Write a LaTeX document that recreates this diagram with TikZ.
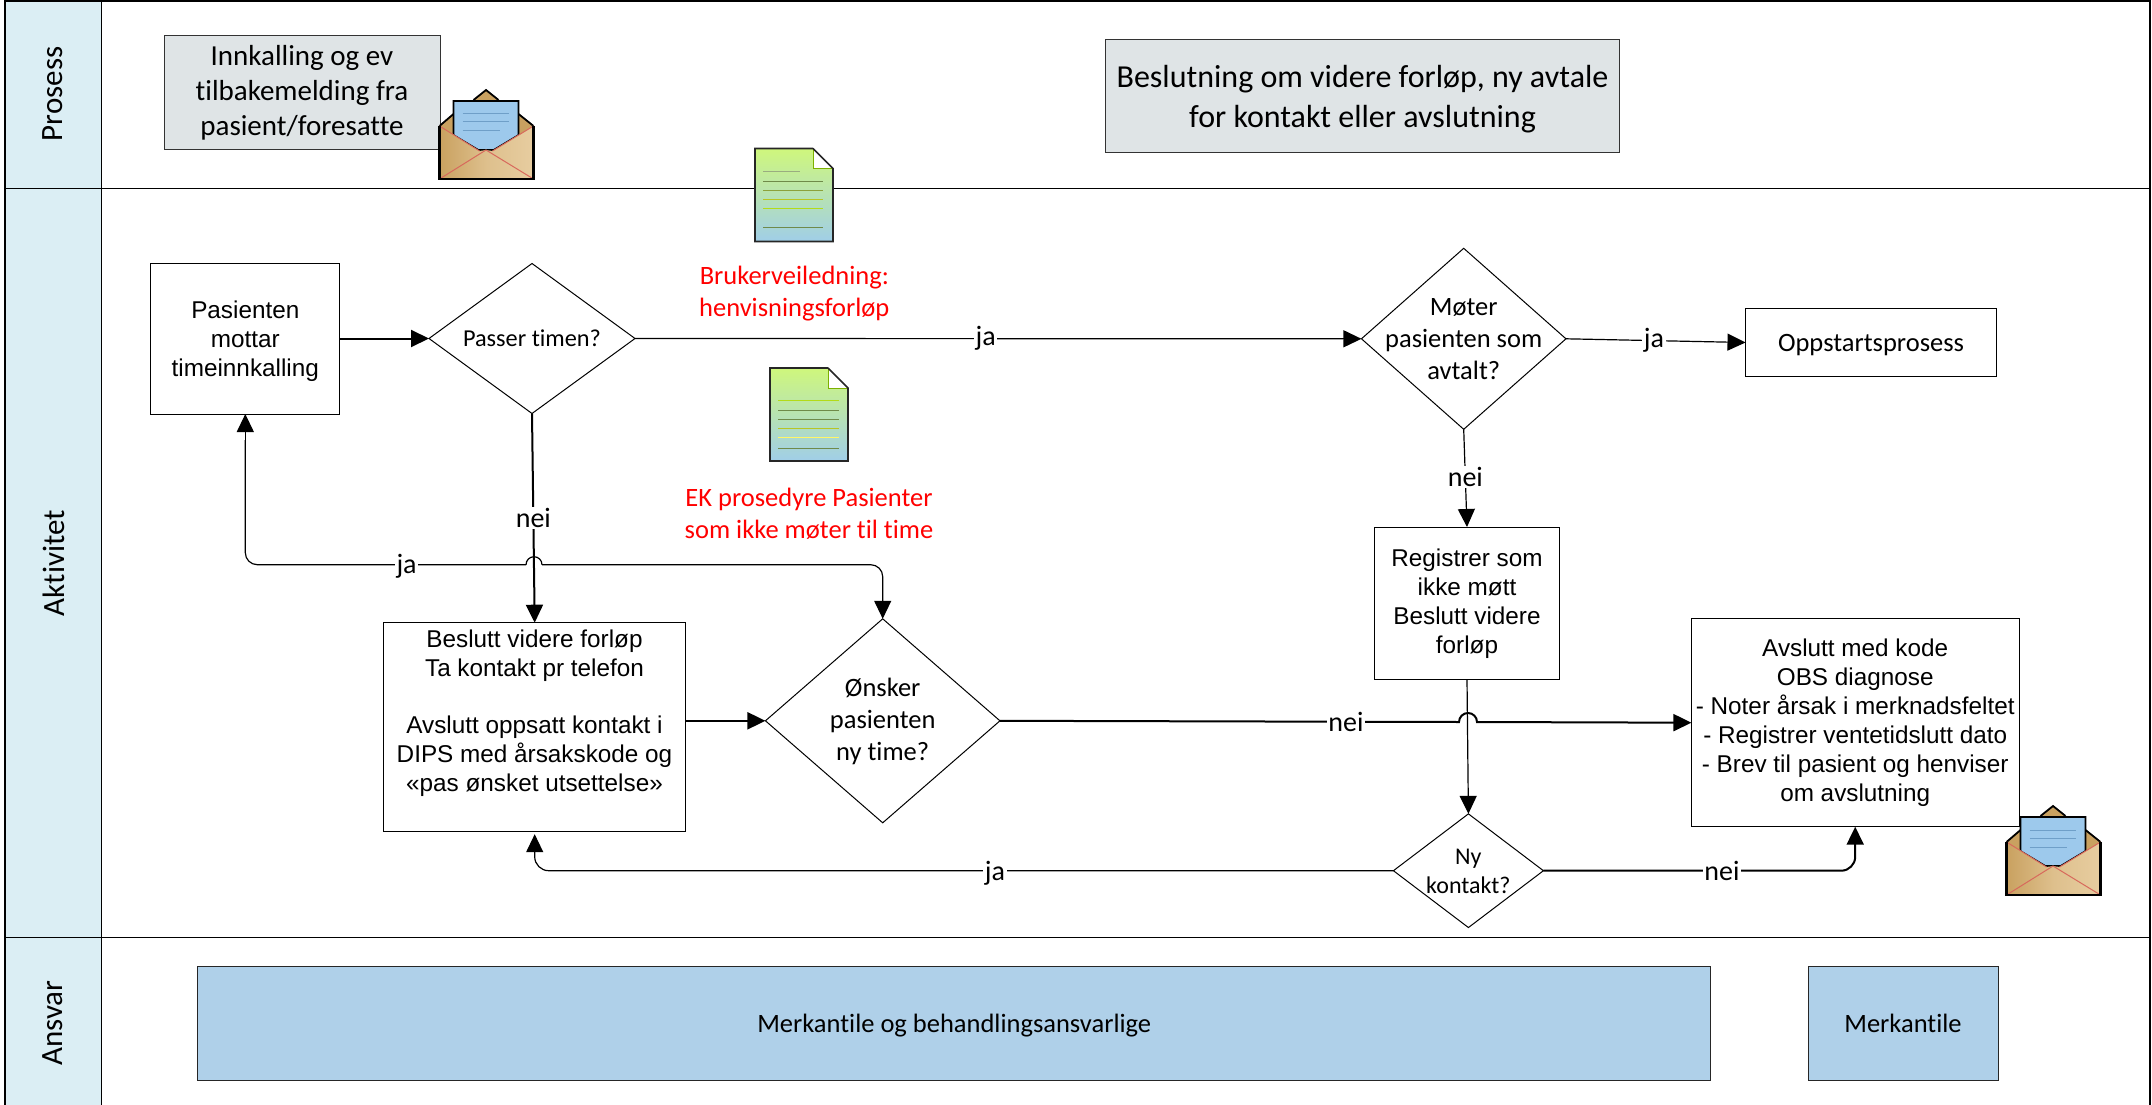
\documentclass[tikz,border=0pt]{standalone}
\usepackage{fontspec}
\setmainfont[Ligatures=NoCommon]{Carlito}
\newfontfamily\arialf{Liberation Sans}
\usetikzlibrary{shapes.geometric,arrows.meta,calc,shadings}
\definecolor{hdr}{HTML}{DBEEF4}
\definecolor{gbox}{HTML}{DFE4E6}
\definecolor{bbox}{HTML}{AFD0E9}
\definecolor{tanA}{HTML}{C9A160}
\definecolor{tanB}{HTML}{E7CDA0}
\definecolor{paperb}{HTML}{9DC9EC}
\definecolor{paperl}{HTML}{6F9FC8}
\definecolor{envr}{HTML}{D8695C}
\definecolor{dgreen}{HTML}{CFF77C}
\definecolor{dblue}{HTML}{A0CEE8}
\definecolor{dfold}{HTML}{7DB000}
\definecolor{dline}{HTML}{6F8A4A}
\newcommand{\fsz}[2]{\fontsize{#1}{#2}\selectfont}
\tikzset{
  lane/.style={draw=black,line width=1.6pt},
  hdrtxt/.style={rotate=90,font=\fsz{31}{37}},
  box/.style={draw=black,line width=1pt,rectangle,inner sep=0pt,outer sep=0pt,align=center,fill=white},
  gray box/.style={box,fill=gbox,draw=black!80},
  blue box/.style={box,fill=bbox,draw=black!85},
  dia/.style={draw=black,line width=1pt,diamond,inner sep=0pt,outer sep=0pt,fill=white},
  cal/.style={font=\fsz{26.5}{32},align=center},
  ari/.style={font=\arialf\fsz{24.3}{29},align=center},
  red txt/.style={font=\fsz{26.5}{32},align=center,text=red},
  lbl/.style={font=\fsz{28}{32},fill=white,inner sep=1.5pt},
  con/.style={draw=black,line width=1.2pt,-{Triangle[length=18pt,width=17pt]}},
  conthick/.style={con,line width=2pt},
  conplain/.style={draw=black,line width=1.2pt},
  envelope/.pic={
    \fill[tanA] (0,36) -- (14,24) -- (14,11) -- (34,11) -- (46.5,0) -- (59,11) -- (79,11) -- (79,24) -- (94,36) -- (94,89) -- (0,89) -- cycle;
    \draw[black,line width=1.8pt] (0,36) -- (14,24) (79,24) -- (94,36) (34,10) -- (46.5,0) -- (59,10);
    \draw[fill=paperb,draw=black,line width=1.6pt] (14,11) -- (79,11) -- (79,45) -- (54,60) -- (39,60) -- (14,45) -- cycle;
    \foreach \yy/\xx in {24/69,32/69,41/60}{\draw[paperl,line width=1pt] (23,\yy) -- (\xx,\yy);}
    \shade[left color=tanA,right color=tanB,middle color=tanB!70!tanA] (0,36) -- (40,61) -- (46.5,60) -- (53,61) -- (94,36) -- (94,89) -- (0,89) -- cycle;
    \draw[envr,line width=1pt] (0,36) -- (40,61) (94,36) -- (53,61) (0,89) -- (46.5,60) -- (94,89);
    \draw[black,line width=2.2pt] (0,36) -- (0,89) -- (94,89) -- (94,36);
  },
  docicon/.pic={
    \shade[top color=dgreen,bottom color=dblue] (0,0) -- (58,0) -- (78,20) -- (78,93) -- (0,93) -- cycle;
    \foreach \yy/\xx/\cc in \doclines {\draw[\cc,line width=1pt] (8,\yy) -- (\xx,\yy);}
    \draw[fill=white,draw=none] (58,0) -- (78,20) -- (58,20) -- cycle;
    \draw[dfold,line width=1pt] (58,0) -- (58,20) -- (78,20);
    \draw[black!85,line width=1.6pt] (58,0) -- (0,0) -- (0,93) -- (78,93) -- (78,20) -- (58,0);
  }
}
\begin{document}
\begin{tikzpicture}[x=1pt,y=-1pt]
\useasboundingbox (0,0) rectangle (2152,1105);
\fill[white] (0,0) rectangle (2152,1105);
% lanes
\fill[hdr] (5,0) rectangle (101,1105);
\draw[lane] (5,0.8) -- (2150,0.8);
\draw[lane,line width=2pt] (5,1105) -- (5,0) (2150,0) -- (2150,1105);
\draw[lane,line width=1pt] (101,0) -- (101,1105);
\draw[lane] (5,188.5) -- (2150,188.5);
\draw[lane] (5,937.5) -- (2150,937.5);
\node[hdrtxt] (hp) at (52.8,94) {Prosess};
\node[hdrtxt] (ha) at (53.5,563) {Aktivitet};
\node[hdrtxt] (hr) at (52.7,1023) {Ansvar};
% process boxes
\node[gray box,minimum width=276pt,minimum height=114pt,font=\fsz{29}{35}] (inn) at (302,93) {Innkalling og ev\\tilbakemelding fra\\pasient/foresatte};
\node[gray box,minimum width=514pt,minimum height=113pt,label={[font=\fsz{32}{40},align=center,yshift=-3pt]center:{Beslutning om videre forløp, ny avtale\\for kontakt eller avslutning}}] (bes) at (1362.5,96.5) {};
\pic at (439.5,90) {envelope};
% documents
\def\doclines{23/45/dline!70,33/68/dline,42/68/dline!80!yellow,51/68/dline!50!yellow,60/68/yellow!70!green,79/68/dline}
\pic at (755,148.5) {docicon};
\def\doclines{32/69/yellow!70!green,42/69/dline,51/69/dline,60/69/dline!50!yellow,69/69/yellow!60!white,80/69/dline}
\pic at (770,368) {docicon};
\node[red txt] (rt1) at (794.3,294) {Brukerveiledning:\\henvisningsforløp};
\node[red txt] (rt2) at (809,514) {EK prosedyre Pasienter\\som ikke møter til time};
% activity nodes
\node[box,minimum width=189pt,minimum height=151pt,label={[ari,yshift=-3pt]center:{Pasienten\\mottar\\timeinnkalling}}] (pas) at (245.3,338.5) {};
\node[dia,minimum width=206pt,minimum height=150pt,label={[cal,font=\fsz{24.3}{29}]center:{Passer timen?}}] (pt) at (532,338.5) {};
\node[dia,minimum width=204.5pt,minimum height=181pt,label={[cal]center:{Møter\\pasienten som\\avtalt?}}] (mo) at (1463.7,338.8) {};
\node[box,minimum width=251pt,minimum height=68.5pt,cal,text depth=0pt] (opp) at (1871,342.5) {Oppstartsprosess};
\node[box,minimum width=185.5pt,minimum height=152pt,label={[ari,yshift=-1pt]center:{Registrer som\\ikke møtt\\Beslutt videre\\forløp}}] (reg) at (1467,603) {};
\node[box,minimum width=302pt,minimum height=208.5pt,anchor=north] (bvf) at (534.7,622.7) {};
\node[ari,anchor=north] (bvft) at (534.5,626) {Beslutt videre forløp\\Ta kontakt pr telefon\\[28.8pt]Avslutt oppsatt kontakt i\\DIPS med årsakskode og\\«pas ønsket utsettelse»};
\node[dia,minimum width=234.5pt,minimum height=204pt,label={[cal,yshift=-1pt]center:{Ønsker\\pasienten\\ny time?}}] (on) at (882.7,720.8) {};
\node[box,minimum width=327.6pt,minimum height=208pt,ari] (avs) at (1855.2,722.7) {Avslutt med kode\\OBS diagnose\\- Noter årsak i merknadsfeltet\\- Registrer ventetidslutt dato\\- Brev til pasient og henviser\\om avslutning};
\node[dia,minimum width=150pt,minimum height=113.7pt,label={[cal,font=\fsz{24}{29},yshift=-1pt]center:{Ny\\kontakt?}}] (ny) at (1468.4,870.7) {};
\pic at (2006.5,806) {envelope};
% responsibility
\node[blue box,minimum width=1513pt,minimum height=114pt,cal,text depth=0pt] (ma) at (954.2,1023) {Merkantile og behandlingsansvarlige};
\node[blue box,minimum width=190pt,minimum height=114pt,cal] (mb) at (1903,1023) {Merkantile};
% connectors
\draw[conthick] (pas.east) -- (pt.west);
\coordinate (hopA) at (534,564.7);
\coordinate (hopB) at (1468,722);
\draw[conplain] (pt.east) -- node[lbl,pos=0.495] (l1) {ja} ($(mo.west)+(-18,0)$);
\draw[con] ($(mo.west)+(-20,0)$) -- (mo.west);
\draw[con] (mo.east) -- node[lbl,pos=0.49] (l2) {ja} (opp.west);
\draw[conthick] (pt.south) -- node[lbl,pos=0.5] (l3) {nei} (bvf.north);
\draw[conplain,rounded corners=12pt] ($(hopA)+(-8,0)$) -- (245.3,564.7) -- (245.3,440);
\draw[con] (245.3,460) -- (pas.south);
\node[lbl] (l4) at (406.6,566) {ja};
\draw[conplain] ($(hopA)+(-8,0)$) arc[start angle=180,end angle=360,radius=8];
\draw[con,rounded corners=12pt] ($(hopA)+(8,0)$) -- (on.north |- hopA) -- (on.north);
\draw[conthick] (bvf.east |- on.west) -- (on.west);
\draw[con] (mo.south) -- node[lbl,pos=0.49] (l5) {nei} (reg.north);
\draw[conthick] (on.east) -- ($(hopB)+(-9,0)$) arc[start angle=180,end angle=360,radius=9] -- (avs.west);
\node[lbl] (l6) at (1346,722) {nei};
\draw[con] (reg.south) -- (ny.north);
\draw[conthick,rounded corners=14pt] (ny.east) -- (avs.south |- ny.east) -- (avs.south);
\node[lbl] (l7) at (1722,871) {nei};
\draw[con,rounded corners=14pt] (ny.west) -- (bvf.south |- ny.west) -- ($(bvf.south)+(0,3)$);
\node[lbl] (l8) at (995,873) {ja};
\end{tikzpicture}
\end{document}
